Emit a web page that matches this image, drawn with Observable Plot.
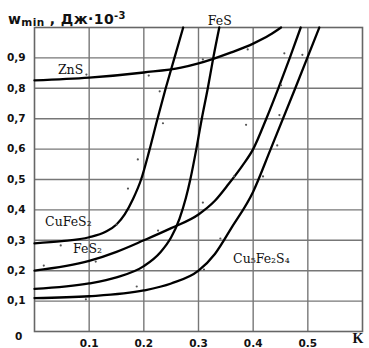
<!DOCTYPE html>
<html>
<head>
<meta charset="utf-8">
<script src="https://cdn.jsdelivr.net/npm/d3@7"></script>
<script src="https://cdn.jsdelivr.net/npm/@observablehq/plot@0.6"></script>
<style>
  html, body { margin: 0; padding: 0; background: #fff; }
  #wrap { position: relative; width: 369px; height: 348px; overflow: hidden; }
  #title { position: absolute; left: 8px; top: 8px; font-family: "DejaVu Sans", sans-serif; font-weight: bold;
           font-size: 14px; line-height: 16px; color: #111; white-space: nowrap; letter-spacing: 0.4px; }
  #title .sub { font-size: 10.5px; vertical-align: -2px; }
  #title .sup { font-size: 10px; vertical-align: 5px; }
</style>
</head>
<body>
<div id="wrap">
  <div id="title">w<span class="sub">min</span> , Дж·10<span class="sup">-3</span></div>
</div>
<script>
// Axis ticks
const xTicks = [0.1, 0.2, 0.3, 0.4, 0.5];
const xTickLabels = ["0.1", "0.2", "0.3", "0.4", "0.5"];
const yTicks = [0.1, 0.2, 0.3, 0.4, 0.5, 0.6, 0.7, 0.8, 0.9];
const yTickLabels = ["0,1", "0,2", "0,3", "0,4", "0,5", "0,6", "0,7", "0,8", "0,9"];

// Curves: K (x) and w_min (y)
const seriesNames = ["ZnS", "CuFeS2", "FeS", "FeS2", "Cu5Fe2S4"];
const znsK = [0, 0.1, 0.2, 0.268, 0.3, 0.327, 0.36, 0.4, 0.43, 0.451];
const znsW = [0.826, 0.835, 0.852, 0.868, 0.882, 0.897, 0.918, 0.947, 0.975, 1.0];
const cufes2K = [0, 0.05, 0.1, 0.13, 0.15, 0.165, 0.18, 0.195, 0.21, 0.225, 0.24, 0.256, 0.272];
const cufes2W = [0.29, 0.297, 0.31, 0.328, 0.352, 0.385, 0.435, 0.50, 0.595, 0.70, 0.80, 0.90, 1.0];
const fesK = [0, 0.1, 0.15, 0.2, 0.23, 0.25, 0.265, 0.277, 0.285, 0.296, 0.306, 0.317, 0.327, 0.338];
const fesW = [0.14, 0.158, 0.178, 0.215, 0.26, 0.31, 0.37, 0.44, 0.50, 0.60, 0.70, 0.80, 0.90, 1.0];
const fes2K = [0, 0.1, 0.15, 0.2, 0.25, 0.3, 0.33, 0.355, 0.38, 0.4, 0.424, 0.446, 0.467, 0.487];
const fes2W = [0.2, 0.232, 0.262, 0.30, 0.34, 0.385, 0.43, 0.485, 0.545, 0.60, 0.70, 0.80, 0.90, 1.0];
const cu5K = [0, 0.1, 0.2, 0.25, 0.3, 0.33, 0.36, 0.4, 0.432, 0.477, 0.521];
const cu5W = [0.11, 0.116, 0.135, 0.158, 0.20, 0.255, 0.34, 0.46, 0.6, 0.8, 1.0];

// Experimental points
const dotsK = [0.095, 0.209, 0.229, 0.308, 0.39, 0.457, 0.49, 0.451, 0.448, 0.387, 0.444, 0.365, 0.418,
               0.235, 0.189, 0.171, 0.15, 0.226, 0.308, 0.34, 0.048, 0.017, 0.112, 0.094, 0.187, 0.31];
const dotsW = [0.845, 0.842, 0.79, 0.895, 0.928, 0.915, 0.91, 0.81, 0.712, 0.68, 0.612, 0.51, 0.51,
               0.685, 0.566, 0.47, 0.352, 0.332, 0.424, 0.306, 0.283, 0.217, 0.23, 0.106, 0.148, 0.204];

// Curve labels
const labelText = ["ZnS", "FeS", "CuFeS₂", "FeS₂", "Cu₅Fe₂S₄"];
const labelK = [0.066, 0.339, 0.062, 0.097, 0.415];
const labelW = [0.859, 1.02, 0.359, 0.273, 0.24];

const seriesK = [znsK, cufes2K, fesK, fes2K, cu5K];
const seriesW = [znsW, cufes2W, fesW, fes2W, cu5W];
const curves = seriesNames.flatMap((name, i) => seriesK[i].map((k, j) => ({name, k, w: seriesW[i][j]})));
const dots = dotsK.map((k, i) => ({k, w: dotsW[i]}));
const labels = labelText.map((t, i) => ({t, k: labelK[i], w: labelW[i]}));

const chart = Plot.plot({
  width: 369,
  height: 348,
  marginLeft: 34,
  marginRight: 7,
  marginTop: 27,
  marginBottom: 17,
  x: {domain: [0, 0.6], ticks: xTicks, tickFormat: d => xTickLabels[xTicks.indexOf(d)], tickSize: 0, tickPadding: 8, label: null},
  y: {domain: [0, 1], ticks: yTicks, tickFormat: d => yTickLabels[yTicks.indexOf(d)], tickSize: 0, tickPadding: 9, label: null},
  style: {fontFamily: "DejaVu Sans", fontSize: "10.5px", fontWeight: "bold", color: "#111", background: "transparent", overflow: "visible"},
  marks: [
    Plot.ruleX(xTicks, {stroke: "#777", strokeWidth: 1.4, strokeOpacity: 1}),
    Plot.ruleY(yTicks, {stroke: "#777", strokeWidth: 1.4, strokeOpacity: 1}),
    Plot.frame({stroke: "#666", strokeWidth: 1.6}),
    Plot.line(curves, {x: "k", y: "w", z: "name", curve: "monotone-x", stroke: "#000", strokeWidth: 2.3}),
    Plot.dot(dots, {x: "k", y: "w", r: 1.1, fill: "#555", stroke: "none"}),
    Plot.text(labels, {x: "k", y: "w", text: "t", fontFamily: "DejaVu Serif", fontSize: 12.5, fontWeight: "normal", fill: "#111", clip: false}),
    Plot.text(["0"], {frameAnchor: "bottom-left", dx: -19.5, dy: 8.5, fontSize: 10.5, fontWeight: "bold"}),
    Plot.text(["K"], {frameAnchor: "bottom-right", dx: 1, dy: 11, fontFamily: "Liberation Serif", fontSize: 14, fontWeight: "bold"})
  ]
});
chart.style.position = "absolute";
chart.style.left = "0";
chart.style.top = "0";
document.getElementById("wrap").prepend(chart);
</script>
</body>
</html>
